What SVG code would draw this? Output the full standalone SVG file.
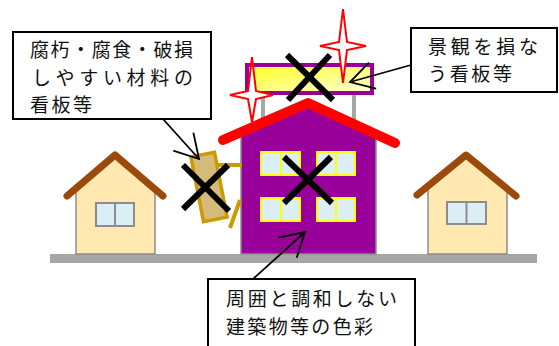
<svg xmlns="http://www.w3.org/2000/svg" width="559" height="346" viewBox="0 0 559 346">
  <style>
    .wall { stroke: #8c8c8c; stroke-width: 1.5; }
    .house { fill: #ffe9b0; }
    .roof-brown { fill: none; stroke: #9c4a0c; stroke-width: 7; stroke-linecap: round; stroke-linejoin: round; }
    .win-gray { fill: #dbeef4; stroke: #8c8c8c; stroke-width: 2; }
    .win-yellow { fill: #daeef3; stroke: #ffff00; stroke-width: 2; }
    .cross { stroke: #000; stroke-width: 6; fill: none; }
    .star { fill: #fff; stroke: #ff0000; stroke-width: 2; stroke-linejoin: miter; }
    .box { fill: #fff; stroke: #000; stroke-width: 2; }
    .label { font-family: "Noto Sans CJK JP", "Noto Sans", sans-serif; font-size: 19px; fill: #111; }
    .arrow { stroke: #000; stroke-width: 1.8; fill: none; marker-end: url(#openArrow); }
    .gold { stroke: #cc9900; stroke-width: 4; fill: none; }
  </style>
  <defs>
    <marker id="openArrow" markerUnits="userSpaceOnUse" viewBox="-26 -16 28 32" markerWidth="28" markerHeight="32" refX="0" refY="0" orient="auto">
      <path d="M -23.4 -13.5 L 0 0 L -23.4 13.5" fill="none" stroke="#000" stroke-width="1.8"/>
    </marker>
    <linearGradient id="signFill" x1="0" y1="0" x2="1" y2="1">
      <stop offset="0" stop-color="#ffff20"/>
      <stop offset="1" stop-color="#ffffd8"/>
    </linearGradient>
  </defs>

  <!-- ground -->
  <rect id="ground" x="50" y="254" width="487" height="9" fill="#a6a6a6"/>

  <!-- left house -->
  <g id="house-left">
    <polygon class="house wall" points="76,254 76,188 115,156 155,188 155,254"/>
    <rect class="win-gray" x="96" y="203" width="38" height="23"/>
    <line x1="115" y1="203" x2="115" y2="226" stroke="#8c8c8c" stroke-width="2"/>
    <polyline class="roof-brown" points="67,196 115,155 163,196"/>
  </g>

  <!-- right house -->
  <g id="house-right">
    <polygon class="house wall" points="428,254 428,187 466,156 507,189 507,254"/>
    <rect class="win-gray" x="447" y="202" width="39" height="22"/>
    <line x1="466.5" y1="202" x2="466.5" y2="224" stroke="#8c8c8c" stroke-width="2"/>
    <polyline class="roof-brown" points="417,195 466,155 516,196"/>
  </g>

  <!-- purple building with rooftop sign -->
  <g id="building">
    <line x1="263" y1="93" x2="263" y2="126" stroke="#a6a6a6" stroke-width="4"/>
    <line x1="354" y1="93" x2="354" y2="126" stroke="#a6a6a6" stroke-width="4"/>
    <rect x="247" y="65" width="125" height="28" fill="url(#signFill)" stroke="#990099" stroke-width="4"/>
    <polygon points="241,254 241,132 308,103 376,134 376,254" fill="#990099" class="wall"/>
    <g>
      <rect class="win-yellow" x="261" y="152" width="39" height="23"/>
      <line x1="281" y1="152" x2="281" y2="175" stroke="#ffff00" stroke-width="2"/>
      <rect class="win-yellow" x="317" y="152" width="38" height="23"/>
      <line x1="336" y1="152" x2="336" y2="175" stroke="#ffff00" stroke-width="2"/>
      <rect class="win-yellow" x="261" y="198" width="39" height="23"/>
      <line x1="281" y1="198" x2="281" y2="221" stroke="#ffff00" stroke-width="2"/>
      <rect class="win-yellow" x="317" y="198" width="38" height="23"/>
      <line x1="336" y1="198" x2="336" y2="221" stroke="#ffff00" stroke-width="2"/>
    </g>
    <polyline points="223,140 308,103 395,143" fill="none" stroke="#ff0000" stroke-width="10" stroke-linecap="round" stroke-linejoin="round"/>
  </g>

  <!-- sparkles on the sign -->
  <g id="sparkle-right">
    <path class="star" d="M343,9 L347,42 L366,46 L347,50 L343,83 L339,50 L320,46 L339,42 Z"/>
  </g>
  <g id="sparkle-left">
    <path class="star" d="M252,57 L256,91 L273,95 L256,99 L252,122 L248,99 L230,95 L248,91 Z"/>
  </g>

  <!-- leaning decayed signboard -->
  <g id="decayed-sign">
    <line class="gold" x1="217" y1="165" x2="242" y2="165"/>
    <line class="gold" x1="240" y1="200" x2="230" y2="228"/>
    <rect x="197" y="154" width="24" height="66" fill="#d4bb7c" stroke="#cc9900" stroke-width="3.5" transform="rotate(-11 209 187)"/>
  </g>

  <!-- crosses -->
  <g id="crosses">
    <path class="cross" d="M287,55 L333,100 M330,55 L288,100"/>
    <path class="cross" d="M284,157 L332,203 M331,157 L284,203"/>
    <path class="cross" d="M183,165 L229,211 M228,165 L183,209"/>
  </g>

  <!-- connectors -->
  <g id="connectors">
    <line class="arrow" x1="163" y1="119" x2="199" y2="159"/>
    <line class="arrow" x1="411" y1="65" x2="350" y2="82"/>
    <line class="arrow" x1="253" y1="279" x2="305" y2="232"/>
  </g>

  <!-- callouts -->
  <g id="label-decay">
    <rect class="box" x="13" y="32" width="198" height="87"/>
    <text class="label" x="30" y="57" textLength="163" lengthAdjust="spacing">腐朽・腐食・破損</text>
    <text class="label" x="32" y="85" textLength="161" lengthAdjust="spacing">しやすい材料の</text>
    <text class="label" x="30" y="112" textLength="62" lengthAdjust="spacing">看板等</text>
  </g>
  <g id="label-sign">
    <rect class="box" x="411" y="28" width="146" height="64"/>
    <text class="label" x="428" y="54" textLength="110" lengthAdjust="spacing">景観を損な</text>
    <text class="label" x="428" y="81" textLength="84" lengthAdjust="spacing">う看板等</text>
  </g>
  <g id="label-color">
    <rect class="box" x="208" y="279" width="207" height="80"/>
    <text class="label" x="226" y="306" textLength="171" lengthAdjust="spacing">周囲と調和しない</text>
    <text class="label" x="226" y="334" textLength="147" lengthAdjust="spacing">建築物等の色彩</text>
  </g>
</svg>
